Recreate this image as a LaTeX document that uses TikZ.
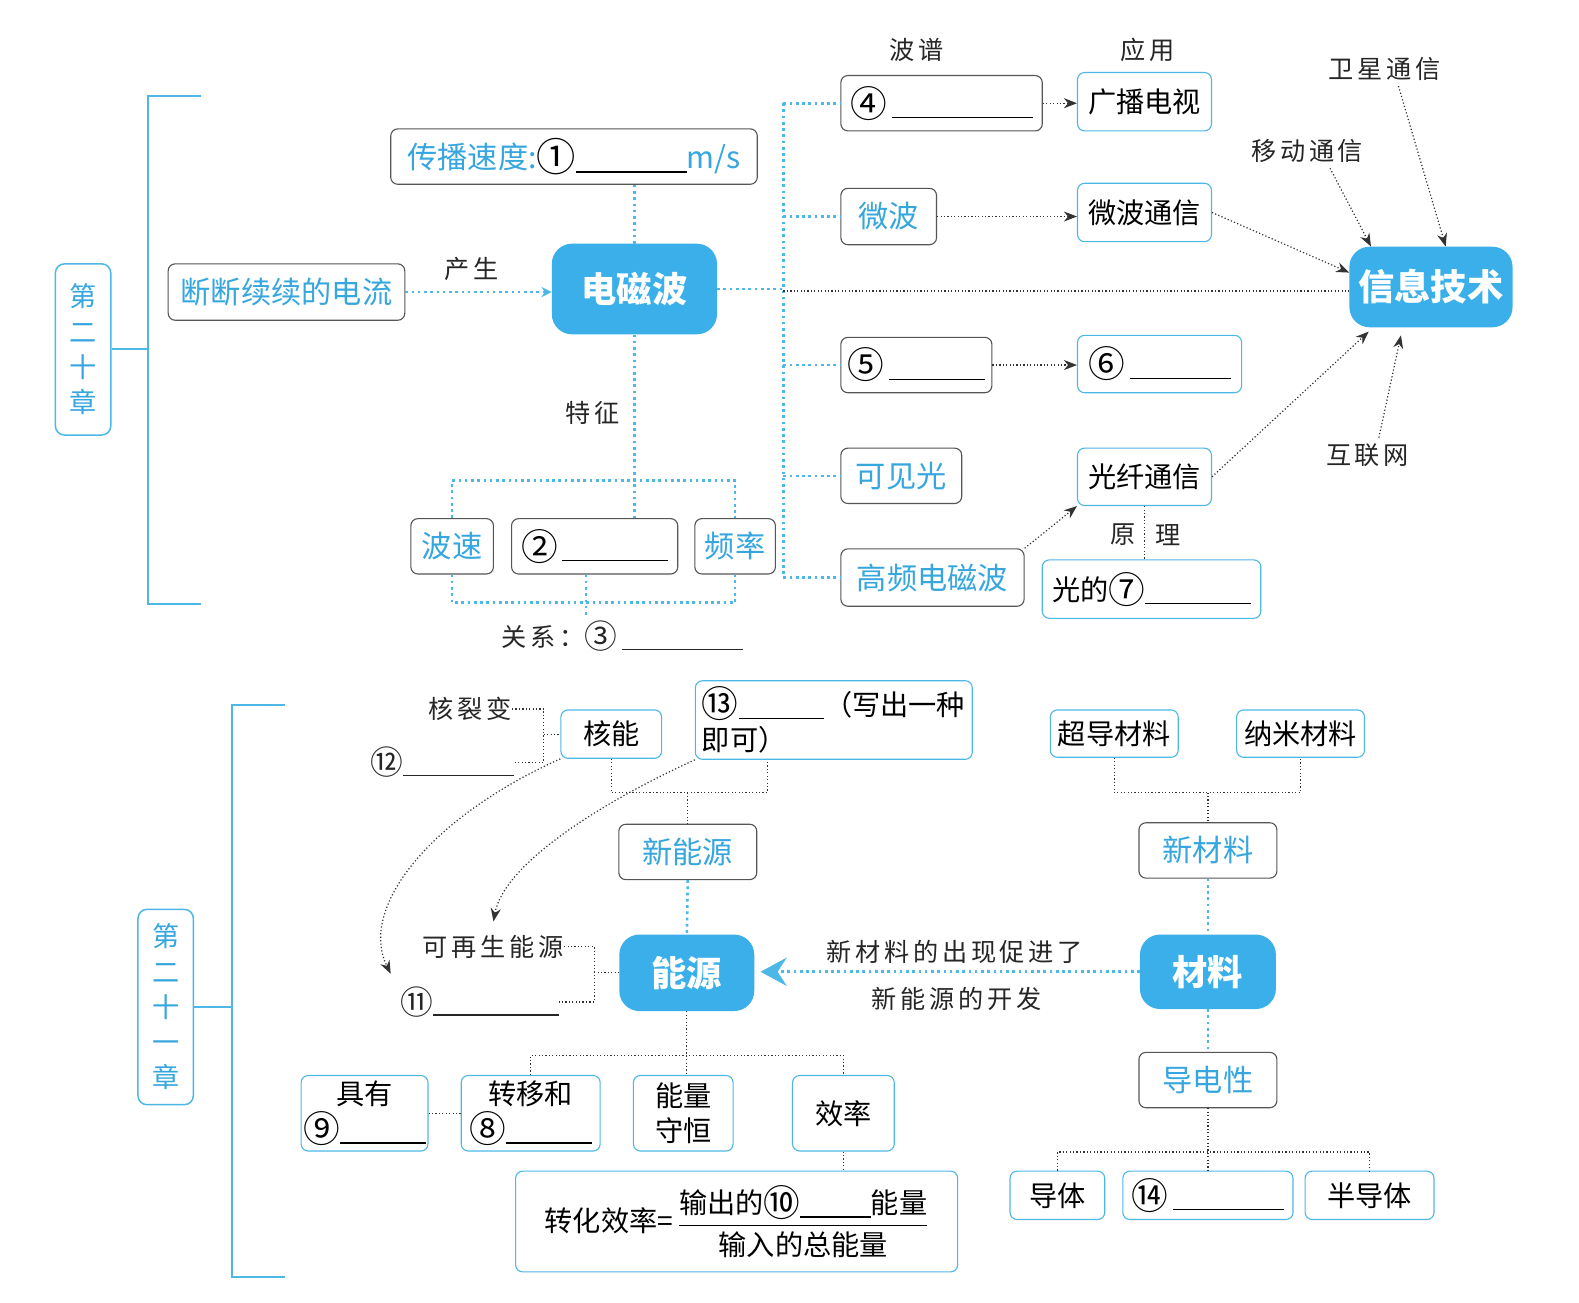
\documentclass[tikz,border=0pt]{standalone}
\usepackage{amsmath}
\usepackage{fontspec}
\setmainfont{Noto Sans CJK SC}
\usetikzlibrary{arrows.meta}
\definecolor{cyl}{HTML}{4DB8E6}
\definecolor{cyf}{HTML}{3AAFEA}
\definecolor{cyt}{HTML}{36A6DE}
\definecolor{bd}{HTML}{555555}
\newcommand\blk[1]{\rule[-4pt]{#1pt}{1.6pt}}
\newcommand\cn[1]{\raisebox{-0.1em}{\scalebox{1.3}{#1}}}
\tikzset{
 bx/.style={draw=bd, line width=1.1pt, rounded corners=7pt, inner sep=0pt, font=\fontsize{28}{35}\selectfont, text=black},
 cb/.style={bx, draw=cyl},
 ct/.style={bx, text=cyt, font=\fontsize{30}{36}\selectfont},
 fl/.style={fill=cyf, draw=none, rounded corners=20pt, inner sep=0pt, text=white, font=\bfseries\fontsize{35}{40}\selectfont},
 lb/.style={inner sep=0pt, text=black!85, font=\fontsize{25}{30}\selectfont\addfontfeature{LetterSpace=15}},
 cdl/.style={draw=cyl, line width=2.6pt, dash pattern=on 2.6pt off 3.6pt},
 kdl/.style={draw=black!80, line width=1.2pt, dash pattern=on 1.2pt off 2.2pt},
 ka/.style={kdl, -{Stealth[length=13pt,width=10pt]}},
 chap/.style={draw=cyl, line width=1.5pt, rounded corners=9pt, text=cyt, font=\fontsize{27}{35}\selectfont, align=center, inner sep=0pt},
 brk/.style={draw=cyl, line width=2pt}
}
\begin{document}
\begin{tikzpicture}[x=1pt,y=-1pt]
\fill[white] (0,0) rectangle (1568,1293);
\useasboundingbox (0,0) rectangle (1568,1293);

% ---------- Chapter 20 ----------
\node[chap, minimum width=55pt, minimum height=170pt] (c20) at (82.5,347) {第\\二\\十\\章};
\draw[brk] (200,95) -- (147,95) -- (147,600) -- (200,600);
\draw[brk] (c20.east) -- (147,0 |- c20.east);

\node[ct, minimum width=364pt, minimum height=55pt] (spd) at (570,155.5) {传播速度:\textcolor{black}{\cn{①}\blk{110}}m/s};
\node[fl, minimum width=164pt, minimum height=90pt] (em) at (630,287) {电磁波};
\node[ct, minimum width=235pt, minimum height=56pt] (cur) at (284.5,290) {断断续续的电流};
\draw[cdl, -{Stealth[length=10pt,width=10pt,fill=cyl]}] (cur.east) -- (em.west |- cur.east) node[lb, pos=0.45, above=10pt] {产生};
\draw[cdl] (em.north |- spd.south) -- (em.north);

\node[ct, minimum width=82pt, minimum height=55pt] (bs) at (449,542.5) {波速};
\node[bx, minimum width=165pt, minimum height=55pt] (c2) at (590.5,542.5) {\cn{②}\,\blk{105}};
\node[ct, minimum width=80pt, minimum height=55pt] (fr) at (730,542.5) {频率};
\draw[cdl] (em.south) -- (em.south |- c2.north);
\node[lb] (tz) at (588,410) {特征};
\draw[cdl] (bs.north) -- ++(0,-37) -| (fr.north);
\draw[cdl] (bs.south) -- ++(0,28) -| (fr.south);
\node[lb] (rel) at (618,632) {关系：\cn{③}\,\blk{120}};
\draw[cdl] (c2.south -| 582,0) -- (582,612);

% right branch
\node[bx, minimum width=200pt, minimum height=55pt] (w4) at (935,102.5) {\cn{④}\,\blk{140}};
\node[cb, minimum width=133pt, minimum height=58pt] (gb) at (1136.5,101) {广播电视};
\node[lb] (bp) at (910,50) {波谱};
\node[lb] (yy) at (1140,50) {应用};
\node[ct, minimum width=95pt, minimum height=56pt] (mw) at (882.5,215) {微波};
\node[cb, minimum width=133pt, minimum height=58pt] (mwt) at (1136.5,211) {微波通信};
\node[fl, minimum width=162pt, minimum height=80pt, font=\bfseries\fontsize{36}{40}\selectfont] (info) at (1421,285) {信息技术};
\node[bx, minimum width=150pt, minimum height=55pt] (w5) at (910,362.5) {\cn{⑤}\,\blk{95}};
\node[cb, minimum width=163pt, minimum height=57pt] (w6) at (1151.5,361.5) {\cn{⑥}\,\blk{100}};
\node[ct, minimum width=120pt, minimum height=55pt] (kj) at (895,472.5) {可见光};
\node[cb, minimum width=133pt, minimum height=57pt] (gx) at (1136.5,473.5) {光纤通信};
\node[ct, minimum width=182pt, minimum height=57pt] (hf) at (926,573.5) {高频电磁波};
\node[cb, minimum width=217pt, minimum height=58pt] (g7) at (1143.5,585) {光的\cn{⑦}\blk{105}};
\node[lb] (sat) at (1375,68) {卫星通信};
\node[lb] (mob) at (1298,150) {移动通信};
\node[lb] (net) at (1358,452) {互联网};
\node[lb] (yl) at (1115,531) {原};
\node[lb] (ll) at (1160,531) {理};

\draw[cdl] (em.east) -- (778,0 |- em.east);
\draw[cdl] (778,0 |- w4.west) -- (778,0 |- hf.west);
\foreach \n in {w4,mw,w5,kj,hf} \draw[cdl] (778,0 |- \n.west) -- (\n.west);
\draw[kdl] (778,289) -- (info.west |- 0,289);
\draw[ka] (w4.east) -- (gb.west |- w4.east);
\draw[ka] (mw.east) -- (mwt.west |- mw.east);
\draw[ka] (w5.east) -- (w6.west |- w5.east);
\draw[ka] (mwt.east) -- (info.170);
\draw[ka] (hf.north east) -- (gx.south west);
\draw[ka, shorten >=6pt] (gx.east) -- (info.-145);
\draw[ka, shorten <=6pt] ([xshift=12pt]sat.south) -- (info.70);
\draw[ka, shorten <=6pt] ([xshift=20pt]mob.south) -- (info.146);
\draw[ka, shorten <=6pt, shorten >=8pt] ([xshift=10pt]net.north) -- (info.-125);
\draw[kdl] (gx.south) -- (gx.south |- g7.north);

% ---------- Chapter 21 ----------
\node[chap, minimum width=55pt, minimum height=194pt] (c21) at (164.5,1000) {第\\二\\十\\一\\章};
\draw[brk] (283,700) -- (230,700) -- (230,1268) -- (283,1268);
\draw[brk] (c21.east) -- (230,0 |- c21.east);

\node[cb, minimum width=100pt, minimum height=48pt] (hn) at (607,729) {核能};
\node[lb] (hlb) at (467,704) {核裂变};
\node[lb] (h12) at (439,757) {\cn{⑫}\blk{110}};
\draw[kdl] (hlb.east) -- (540,0 |- hlb.east) -- (540,0 |- h12.east) -- (h12.east);
\draw[kdl] (540,0 |- hn.west) -- (hn.west);
\node[cb, minimum width=275pt, minimum height=78pt, align=left, text width=262pt] (w13) at (828,715) {\cn{⑬}\blk{85}（写出一种\\即可）};
\draw[kdl] (hn.south) |- (762,787) -- (762,0 |- w13.south);
\node[ct, minimum width=137pt, minimum height=55pt] (xny) at (683,846) {新能源};
\draw[kdl] (xny.north |- 0,787) -- (xny.north);
\node[fl, minimum width=134pt, minimum height=76pt] (ny) at (682,966) {能源};
\draw[cdl] (xny.south) -- (ny.north);
\node[lb] (kz) at (490,940) {可再生能源};
\node[lb] (w11) at (476,995) {\cn{⑪}\blk{125}};
\draw[kdl] (kz.east) -- (590,0 |- kz.east) -- (590,0 |- w11.east) -- (w11.east);
\draw[kdl] (590,0 |- ny.west) -- (ny.west);
\coordinate (t11) at (388,967);
\coordinate (tkz) at (490,915);
\draw[ka] (hn.south west) .. controls (430,810) and (355,900) .. (t11);
\draw[ka] (w13.south west) .. controls (590,800) and (500,860) .. (tkz);

\node[fl, minimum width=135pt, minimum height=74pt] (cl) at (1199.5,965) {材料};
\draw[cdl, shorten >=6pt, -{Stealth[length=26pt,width=28pt,inset=9pt,fill=cyl]}] (cl.west) -- (ny.east |- cl.west);
\node[lb] (ls1) at (948,945) {新材料的出现促进了};
\node[lb] (ls2) at (950,992) {新能源的开发};
\node[ct, minimum width=137pt, minimum height=55pt] (xcl) at (1199.5,844.5) {新材料};
\draw[cdl] (xcl.south) -- (cl.north);
\node[cb, minimum width=127pt, minimum height=47pt] (cd) at (1106.5,728.5) {超导材料};
\node[cb, minimum width=127pt, minimum height=47pt] (nm) at (1291.5,728.5) {纳米材料};
\draw[kdl] (cd.south) |- (nm.south |- 0,787) -- (nm.south);
\draw[kdl] (xcl.north |- 0,787) -- (xcl.north);
\node[ct, minimum width=137pt, minimum height=55pt] (ddx) at (1199.5,1072.5) {导电性};
\draw[cdl] (cl.south) -- (ddx.north);
\node[cb, minimum width=94pt, minimum height=48pt] (dt) at (1050,1187) {导体};
\node[cb, minimum width=169pt, minimum height=48pt] (w14) at (1199.5,1187) {\cn{⑭}\,\blk{110}};
\node[cb, minimum width=128pt, minimum height=48pt] (bdt) at (1360,1187) {半导体};
\draw[kdl] (ddx.south) -- (w14.north);
\draw[kdl] (dt.north) |- (bdt.north |- 0,1144) -- (bdt.north);

\node[cb, minimum width=126pt, minimum height=75pt, align=center] (jy) at (362,1105.5) {具有\\\cn{⑨}\blk{85}};
\node[cb, minimum width=138pt, minimum height=75pt, align=center] (zy) at (527,1105.5) {转移和\\\cn{⑧}\blk{85}};
\node[cb, minimum width=99pt, minimum height=75pt, align=center] (nl) at (678.5,1105.5) {能量\\守恒};
\node[cb, minimum width=101pt, minimum height=75pt] (xl) at (837.5,1105.5) {效率};
\draw[kdl] (ny.south) -- (ny.south |- nl.north);
\draw[kdl] (zy.north) |- (xl.north |- 0,1048) -- (xl.north);
\draw[kdl] (jy.east) -- (zy.west);
\node[cb, minimum width=439pt, minimum height=100pt] (fm) at (731.5,1213) {转化效率=\,$\genfrac{}{}{1.6pt}{0}{\hbox{输出的\cn{⑩}\blk{70}能量}}{\hbox{输入的总能量}}$};
\draw[kdl] (xl.south) -- (xl.south |- fm.north);
\end{tikzpicture}
\end{document}
